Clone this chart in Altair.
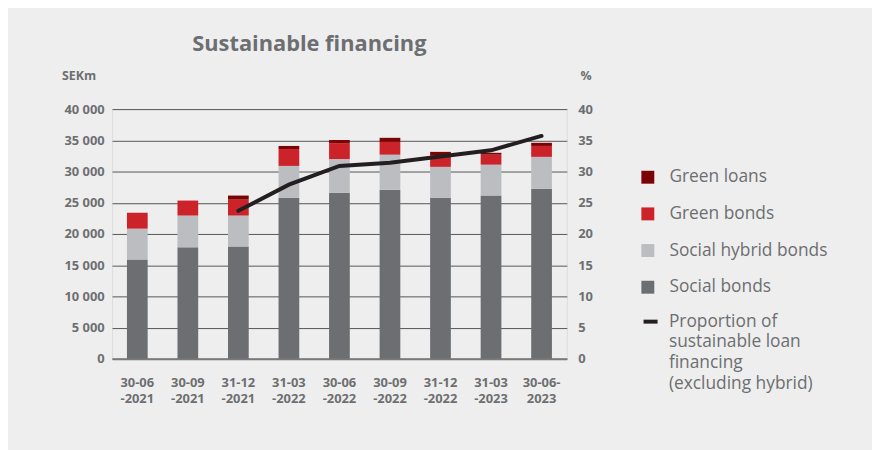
import altair as alt
import pandas as pd

categories = ["30-06|-2021", "30-09|-2021", "31-12|-2021", "31-03|-2022", "30-06|-2022",
              "30-09|-2022", "31-12|-2022", "31-03|-2023", "30-06-|2023"]
social_bonds = [15900, 17850, 18000, 25800, 26600, 27100, 25800, 26150, 27250]
social_hybrid_bonds = [4950, 5100, 4950, 5100, 5400, 5600, 4950, 4950, 5100]
green_bonds = [2550, 2400, 2550, 2700, 2550, 2050, 1900, 1600, 1750]
green_loans = [0, 0, 650, 500, 500, 650, 500, 300, 500]
proportion = [None, None, 23.7, 27.9, 30.9, 31.4, 32.4, 33.4, 35.7]

series_names = ["Social bonds", "Social hybrid bonds", "Green bonds", "Green loans"]
series_values = [social_bonds, social_hybrid_bonds, green_bonds, green_loans]
legend_order = ["Green loans", "Green bonds", "Social hybrid bonds", "Social bonds"]
colors = ["#7b0304", "#cc2229", "#bcbdc0", "#6d6e71"]

rows = []
for k, (name, vals) in enumerate(zip(series_names, series_values)):
    for c, v in zip(categories, vals):
        rows.append({"cat": c, "series": name, "value": v, "ord": k})
bars_df = pd.DataFrame(rows)

line_df = pd.DataFrame({
    "cat": [c for c, p in zip(categories, proportion) if p is not None],
    "pct": [p for p in proportion if p is not None],
    "name": "Proportion of|sustainable loan|financing|(excluding hybrid)",
})

FONT = "Open Sans"
GREY = "#6d6e71"

xenc = alt.X("cat:N", sort=categories, title=None,
             scale=alt.Scale(paddingInner=0.59, paddingOuter=0.295),
             axis=alt.Axis(labelAngle=0, labelExpr="split(datum.label, '|')",
                           labelFont=FONT, labelFontWeight="bold", labelFontSize=13,
                           labelColor=GREY, labelLineHeight=16, labelPadding=18,
                           ticks=False, domainColor="#7a7a7a", domainWidth=2))

bars = alt.Chart(bars_df).mark_bar().encode(
    x=xenc,
    y=alt.Y("value:Q", stack="zero", title="SEKm",
            scale=alt.Scale(domain=[0, 40000]),
            axis=alt.Axis(values=[0, 5000, 10000, 15000, 20000, 25000, 30000, 35000, 40000],
                          labelExpr="replace(format(datum.value, ','), ',', ' ')",
                          labelFont=FONT, labelFontWeight="bold", labelFontSize=13,
                          labelColor=GREY, labelPadding=8, ticks=False, domain=False,
                          grid=True, gridColor="#555555", gridWidth=1,
                          titleAngle=0, titleX=-51, titleY=-34, titleAlign="left",
                          titleBaseline="middle", titleFont=FONT, titleFontSize=12.5,
                          titleFontWeight="bold", titleColor=GREY)),
    color=alt.Color("series:N", scale=alt.Scale(domain=legend_order, range=colors),
                    legend=alt.Legend(title=None, orient="none", legendX=532, legendY=60,
                                      symbolType="square", symbolSize=170,
                                      symbolStrokeWidth=0, labelFont=FONT,
                                      labelFontSize=17.5, labelColor=GREY,
                                      rowPadding=18, labelOffset=13, padding=0)),
    order=alt.Order("ord:Q", sort="ascending"),
)

line = alt.Chart(line_df).mark_line(strokeWidth=4, strokeCap="round").encode(
    x=alt.X("cat:N", sort=categories),
    y=alt.Y("pct:Q", title="%", scale=alt.Scale(domain=[0, 40]),
            axis=alt.Axis(orient="right", values=[0, 5, 10, 15, 20, 25, 30, 35, 40],
                          labelFont=FONT, labelFontWeight="bold", labelFontSize=13,
                          labelColor=GREY, labelPadding=11, ticks=False, domain=False,
                          grid=False, titleAngle=0, titleX=19, titleY=-34,
                          titleAlign="center", titleBaseline="middle", titleFont=FONT,
                          titleFontSize=12.5, titleFontWeight="bold", titleColor=GREY)),
    stroke=alt.Stroke("name:N", scale=alt.Scale(range=["#231f20"]),
                      legend=alt.Legend(title=None, orient="none", legendX=534, legendY=205,
                                        symbolType="stroke", symbolSize=200,
                                        symbolStrokeWidth=4, labelFont=FONT,
                                        labelFontSize=17.5, labelColor=GREY,
                                        labelExpr="split(datum.label, '|')",
                                        labelOffset=9, padding=0,
                                        labelLimit=300)),
)

chart = alt.layer(bars, line).resolve_scale(y="independent", color="independent").properties(
    width=459, height=252,
    autosize=alt.AutoSizeParams(type="none"),
    padding={"left": 105, "top": 100, "right": 308, "bottom": 90},
    background="#eeeeee",
    title=alt.TitleParams("Sustainable financing", anchor="start", dx=132, dy=-10,
                          font=FONT, fontSize=22, fontWeight="bold", color=GREY),
).configure_view(stroke=None).configure(style={"guide-label": {"lineHeight": 21}})

chart.save("out.html", embed_options={"renderer": "svg", "actions": False})
